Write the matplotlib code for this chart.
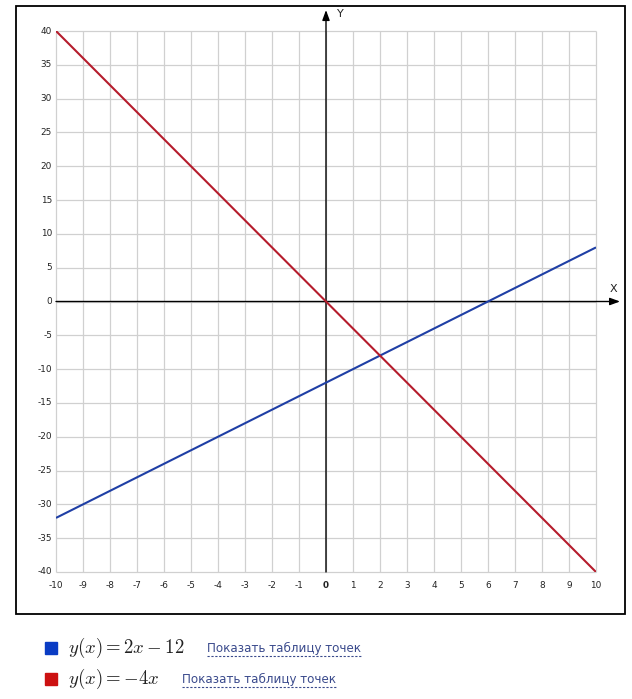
"""Graphs of y = 2x - 12 and y = -4x on a school-style grid."""
import matplotlib
matplotlib.use("Agg")
import matplotlib.pyplot as plt
from matplotlib.lines import Line2D
from matplotlib.patches import Rectangle

# data
x_ends = [-10, 10]
blue_y = [-32, 8]
red_y = [40, -40]
x_ticks = list(range(-10, 11))
y_ticks = list(range(-40, 41, 5))
legend_formulas = [r"$y(x) = 2x - 12$", r"$y(x) = -4x$"]
link_text = "Показать таблицу точек"

W, H = 632, 699


def fx(px):
    return px / W


def fy(py):
    return 1 - py / H


plt.rcParams['mathtext.fontset'] = 'cm'
fig = plt.figure(figsize=(W / 100, H / 100), dpi=100)

# outer frame
fig.patches.append(Rectangle((fx(16), fy(614)), fx(625) - fx(16), fy(6) - fy(614),
                             transform=fig.transFigure, fill=False,
                             edgecolor='black', linewidth=1.3))

ax = fig.add_axes([fx(56), fy(572), fx(596) - fx(56), fy(31) - fy(572)])
ax.set_xlim(-10, 10)
ax.set_ylim(-40, 40)
for s in ax.spines.values():
    s.set_visible(False)
ax.set_xticks([])
ax.set_yticks([])

grid_kw = dict(color='#d0d0d0', linewidth=0.9, clip_on=False, zorder=1)
ax.vlines(x_ticks, -40, 40, **grid_kw)
ax.hlines(y_ticks, -10, 10, **grid_kw)

# tick labels
for xv in x_ticks:
    ax.text(xv, -40 - 13 / 6.7625, str(xv), ha='center', va='center', fontsize=6.4,
            color='#222222', fontweight='bold' if xv == 0 else 'normal')
for yv in y_ticks:
    ax.text(-10 - 4 / 27, yv, str(yv), ha='right', va='center', fontsize=6.4,
            color='#222222')

# axes with arrows
arrow = dict(arrowstyle='-|>,head_length=0.6,head_width=0.22', color='black',
             linewidth=1.0, shrinkA=0, shrinkB=0)
ax.annotate('', xy=(10.89, 0), xytext=(-10, 0), arrowprops=arrow,
            annotation_clip=False, zorder=3)
ax.annotate('', xy=(0, 43.1), xytext=(0, -40), arrowprops=arrow,
            annotation_clip=False, zorder=3)
ax.text(10.63, 1.9, 'X', fontsize=8, ha='center', va='center', color='#222222')
ax.text(0.52, 42.5, 'Y', fontsize=8, ha='center', va='center', color='#222222')

# function lines
ax.plot(x_ends, blue_y, color='#1f3fa5', linewidth=1.5, zorder=4,
        solid_capstyle='butt')
ax.plot(x_ends, red_y, color='#b51c2c', linewidth=1.5, zorder=4,
        solid_capstyle='butt')

# legend below the chart
legend_rows = [
    (648, '#0a3cc4', legend_formulas[0], 207, 362),
    (679, '#cc1111', legend_formulas[1], 182, 336),
]
for py, sq_color, formula, link_x0, link_x1 in legend_rows:
    fig.patches.append(Rectangle((fx(45), fy(py + 6)), fx(57) - fx(45), fy(py - 6) - fy(py + 6),
                                 transform=fig.transFigure, color=sq_color))
    fig.text(fx(68), fy(py), formula, fontsize=13.5, va='center', ha='left',
             color='#222222')
    fig.text(fx(link_x0), fy(py), link_text, fontsize=8.6, va='center', ha='left',
             color='#3a4a8c')
    fig.lines.append(Line2D([fx(link_x0), fx(link_x1)], [fy(py + 8), fy(py + 8)],
                            transform=fig.transFigure, color='#3a4a8c',
                            linewidth=0.8, linestyle=(0, (2, 1.5))))

fig.savefig('out.png', dpi=100)
